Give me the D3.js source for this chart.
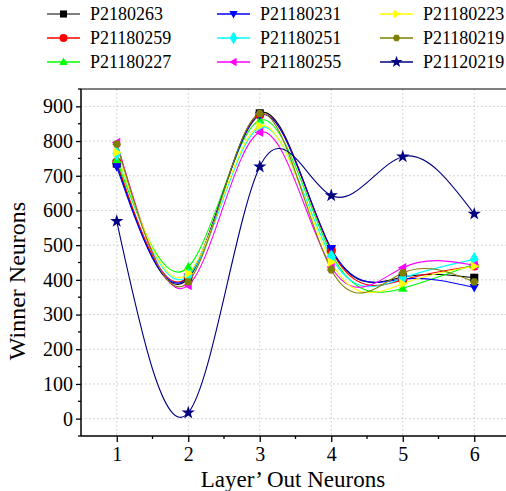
<!DOCTYPE html>
<html><head><meta charset="utf-8">
<script src="https://cdn.jsdelivr.net/npm/d3@7"></script>
<style>body{margin:0;background:#fff}svg{display:block}svg text{font-family:"Liberation Serif","Times New Roman",serif !important;fill:#000}</style>
</head><body><svg id="c" width="506" height="491"></svg>
<script>
const layers = [1, 2, 3, 4, 5, 6];
const seriesNames = ["P2180263","P21180259","P21180227","P21180231","P21180251","P21180255","P21180223","P21180219","P21120219"];
const seriesColors = ["#000000","#ff0000","#00ff00","#0000ff","#00ffff","#ff00ff","#ffff00","#808000","#000080"];
const seriesSymbols = ["square","circle","triangleUp","triangleDown","diamond","triangleLeft","triangleRight","hexagon","star"];
const valsP2180263  = [735, 404, 880, 488, 408, 406];
const valsP21180259 = [740, 410, 875, 485, 400, 440];
const valsP21180227 = [746, 437, 860, 476, 376, 445];
const valsP21180231 = [726, 408, 874, 490, 402, 378];
const valsP21180251 = [764, 412, 839, 466, 405, 459];
const valsP21180255 = [796, 384, 825, 437, 435, 442];
const valsP21180223 = [767, 418, 844, 451, 389, 439];
const valsP21180219 = [791, 394, 879, 429, 420, 394];
const valsP21120219 = [569, 17, 726, 643, 755, 590];
const allValues = [valsP2180263,valsP21180259,valsP21180227,valsP21180231,valsP21180251,valsP21180255,valsP21180223,valsP21180219,valsP21120219];
const yTicks = [0,100,200,300,400,500,600,700,800,900];

const FONT = "'Liberation Serif', 'Times New Roman', serif";
const svg = d3.select("#c");
const L = 81, R = 510, T = 89, B = 436;
const x = d3.scaleLinear().domain([0.5, 6.5]).range([L, R]);
const y = d3.scaleLinear().domain([-50, 950]).range([B, T]);

// grid
const g = svg.append("g");
g.selectAll(".hg").data(yTicks).enter().append("line")
  .attr("x1", L).attr("x2", R).attr("y1", d => y(d)).attr("y2", d => y(d))
  .attr("stroke", "#c8c8c8").attr("stroke-width", 1).attr("stroke-dasharray", "1.5,2.5");
g.selectAll(".vg").data(layers).enter().append("line")
  .attr("y1", T).attr("y2", B).attr("x1", d => x(d)).attr("x2", d => x(d))
  .attr("stroke", "#c8c8c8").attr("stroke-width", 1).attr("stroke-dasharray", "1.5,2.5");

const line = d3.line().x((d, i) => x(layers[i])).y(d => y(d)).curve(d3.curveNatural);
const symType = {square: d3.symbolSquare, circle: d3.symbolCircle, diamond: d3.symbolDiamond, star: d3.symbolStar};
function drawSym(sel, name, size) {
  if (symType[name]) {
    sel.append("path").attr("d", d3.symbol().type(symType[name]).size(size)());
  } else {
    const r = Math.sqrt(size) * 0.62;
    let pts;
    if (name === "triangleUp") pts = [[0,-r],[r*0.95,r*0.7],[-r*0.95,r*0.7]];
    else if (name === "triangleDown") pts = [[0,r],[r*0.95,-r*0.7],[-r*0.95,-r*0.7]];
    else if (name === "triangleLeft") pts = [[-r,0],[r*0.7,-r*0.95],[r*0.7,r*0.95]];
    else if (name === "triangleRight") pts = [[r,0],[-r*0.7,-r*0.95],[-r*0.7,r*0.95]];
    else { const rr = r*0.85; pts = d3.range(6).map(k => [rr*Math.cos(Math.PI/3*k), rr*Math.sin(Math.PI/3*k)]); }
    sel.append("path").attr("d", "M" + pts.map(p => p.join(",")).join("L") + "Z");
  }
}
allValues.forEach((vals, s) => {
  svg.append("path").datum(vals).attr("d", line).attr("fill", "none")
    .attr("stroke", seriesColors[s]).attr("stroke-width", 1.1);
});
allValues.forEach((vals, s) => {
  vals.forEach((v, i) => {
    const m = svg.append("g").attr("transform", `translate(${x(layers[i])},${y(v)})`)
      .attr("fill", seriesColors[s]);
    drawSym(m, seriesSymbols[s], s === 8 ? 55 : 65);
  });
});

// axes frame
svg.append("line").attr("x1", L).attr("x2", R).attr("y1", T).attr("y2", T).attr("stroke", "#000").attr("stroke-width", 1.2);
const yAxis = d3.axisLeft(y).tickValues(yTicks).tickSize(5).tickPadding(3).tickFormat(d3.format("d"));
const ya = svg.append("g").attr("transform", `translate(${L},0)`).call(yAxis);
const xAxis = d3.axisBottom(x).tickValues(layers).tickSize(6).tickPadding(5).tickFormat(d3.format("d"));
const xa = svg.append("g").attr("transform", `translate(0,${B})`).call(xAxis);
[ya, xa].forEach(a => {
  a.attr("font-family", FONT).attr("font-size", 20);
  a.select(".domain").attr("stroke", "#000").attr("stroke-width", 1.5);
  a.selectAll(".tick line").attr("stroke", "#000").attr("stroke-width", 1.3);
  a.selectAll("text").style("font-family", FONT).style("font-size", "20px").attr("fill", "#000");
});
ya.select(".domain").attr("d", `M0,${B}V${T}`);
xa.select(".domain").attr("d", `M${L},0H${R}`);
const yMinor = d3.range(-50, 951, 100);
svg.selectAll(".ymin").data(yMinor).enter().append("line")
  .attr("x1", L - 3).attr("x2", L).attr("y1", d => y(d)).attr("y2", d => y(d)).attr("stroke", "#000").attr("stroke-width", 1.3);
const xMinor = [1.5, 2.5, 3.5, 4.5, 5.5];
svg.selectAll(".xmin").data(xMinor).enter().append("line")
  .attr("y1", B).attr("y2", B + 3).attr("x1", d => x(d)).attr("x2", d => x(d)).attr("stroke", "#000").attr("stroke-width", 1.3);

svg.append("text").attr("x", 293).attr("y", 487).attr("text-anchor", "middle").style("font-family", FONT).style("font-size", "23px").text("Layer\u2019 Out Neurons");
svg.append("text").attr("transform", "translate(25,281) rotate(-90)").attr("text-anchor", "middle").style("font-family", FONT).style("font-size", "24px").text("Winner Neurons");

const legX = [47, 217, 380], legY = [14, 38, 62];
seriesNames.forEach((name, s) => {
  const col = Math.floor(s / 3), row = s % 3;
  const lg = svg.append("g").attr("transform", `translate(${legX[col]},${legY[row]})`);
  lg.append("line").attr("x1", 0).attr("x2", 33).attr("y1", 0).attr("y2", 0).attr("stroke", seriesColors[s] === "#000000" ? "#555" : seriesColors[s]).attr("stroke-width", 1.3);
  const m = lg.append("g").attr("transform", "translate(16.5,0)").attr("fill", seriesColors[s]);
  drawSym(m, seriesSymbols[s], s === 8 ? 45 : 50);
  lg.append("text").attr("x", 43).attr("y", 6).style("font-family", FONT).style("font-size", "18px").text(name);
});
</script></body></html>
